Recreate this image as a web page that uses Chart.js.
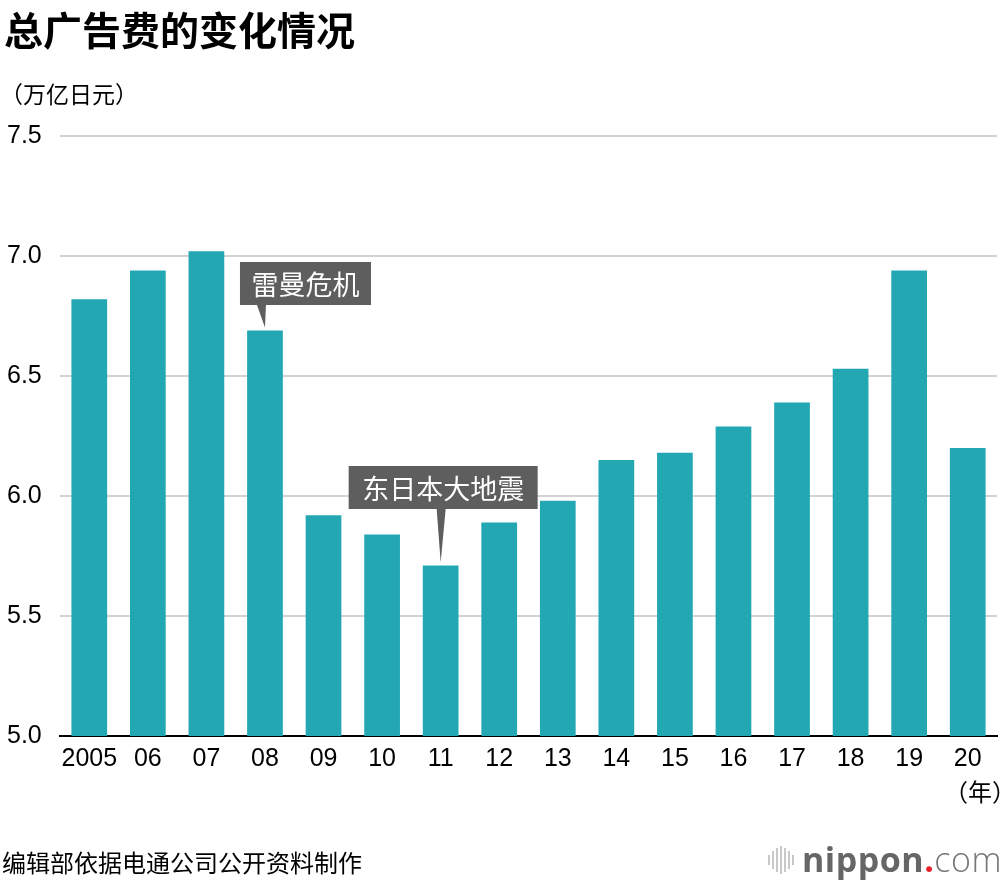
<!DOCTYPE html>
<html>
<head>
<meta charset="utf-8">
<script src="https://cdn.jsdelivr.net/npm/chart.js@4"></script>
<style>
  html, body { margin: 0; padding: 0; background: #fff; }
  body { width: 1000px; height: 880px; position: relative; overflow: hidden;
         font-family: "Liberation Sans", "Noto Sans CJK SC", sans-serif; color: #000; }
  #wrap { position: absolute; left: 0; top: 0; width: 1000px; height: 880px; }
  .title { position: absolute; left: 4px; top: 0px; font-size: 39px; font-weight: bold;
           font-family: "Noto Sans CJK SC", sans-serif; letter-spacing: 0px; }
  .unit { position: absolute; left: 0px; top: 76px; font-size: 23px;
          font-family: "Noto Sans CJK SC", sans-serif; }
  .year { position: absolute; left: 944px; top: 773px; font-size: 24px;
          font-family: "Noto Sans CJK SC", sans-serif; }
  .source { position: absolute; left: 2px; top: 844px; font-size: 24px;
            font-family: "Noto Sans CJK SC", sans-serif; }
  .logo { position: absolute; left: 768px; top: 838px; height: 40px; }
  .logo .bars { position: absolute; left: 0; top: 8px; width: 28px; height: 28px; }
  .logo .bars span { position: absolute; width: 2px; background: #c8c8c8; }
  .logo .txt { position: absolute; left: 34px; top: -2px; font-size: 34px; white-space: nowrap;
               font-family: "Open Sans", sans-serif; letter-spacing: 0.5px; }
  .logo .n { color: #666; font-weight: bold; }
  .logo .d { color: #e8202a; font-weight: bold; }
  .logo .c { color: #777; font-weight: 300; }
</style>
</head>
<body>
<div id="wrap"><canvas id="chart" width="1000" height="880"></canvas></div>
<div class="title">总广告费的变化情况</div>
<div class="unit">（万亿日元）</div>
<div class="year">（年）</div>
<div class="source">编辑部依据电通公司公开资料制作</div>
<div class="logo">
  <div class="bars" id="logobars"></div>
  <div class="txt"><span class="n">nippon</span><span class="d">.</span><span class="c">com</span></div>
</div>
<script>
// data
const years = ['2005', '06', '07', '08', '09', '10', '11', '12', '13', '14', '15', '16', '17', '18', '19', '20']
const adSpend = [6.82, 6.94, 7.02, 6.69, 5.92, 5.84, 5.71, 5.89, 5.98, 6.15, 6.18, 6.29, 6.39, 6.53, 6.94, 6.20]
const yTicks = [5.0, 5.5, 6.0, 6.5, 7.0, 7.5]
const notes = [
    { index: 3, text: '雷曼危机' },
    { index: 6, text: '东日本大地震' }
]

// little logo icon
const lb = document.getElementById('logobars')
const hts = [10, 18, 24, 28, 24, 18, 10]
hts.forEach((h, i) => {
    let s = document.createElement('span')
    s.style.left = (i * 4) + 'px'
    s.style.top = ((28 - h) / 2) + 'px'
    s.style.height = h + 'px'
    lb.appendChild(s)
})

const tickFont = { family: '"Liberation Sans", sans-serif', size: 25 }

// note boxes: box left offset from bar center, box top, size, pointer base offsets
const noteLayout = {
    3: { dx: -25, top: 262, w: 131, h: 43, baseX: [-8, 1] },
    6: { dx: -92, top: 466, w: 189, h: 43, baseX: [-4, 5] }
}

const notePlugin = {
    id: 'notes',
    afterDatasetsDraw(chart) {
        const ctx = chart.ctx
        const meta = chart.getDatasetMeta(0)
        notes.forEach(n => {
            const bar = meta.data[n.index]
            const L = noteLayout[n.index]
            const bx = bar.x + L.dx
            const by = L.top
            ctx.save()
            ctx.fillStyle = '#5e5e5e'
            ctx.fillRect(bx, by, L.w, L.h)
            // pointer
            ctx.beginPath()
            ctx.moveTo(bar.x + L.baseX[0], by + L.h)
            ctx.lineTo(bar.x + L.baseX[1], by + L.h)
            ctx.lineTo(bar.x, bar.y - 3)
            ctx.closePath()
            ctx.fill()
            ctx.fillStyle = '#fff'
            ctx.font = '27px "Noto Sans CJK SC", sans-serif'
            ctx.textAlign = 'center'
            ctx.textBaseline = 'middle'
            ctx.fillText(n.text, bx + L.w / 2, by + L.h / 2 + 1)
            ctx.restore()
        })
    }
}

const DATA = {
    type: 'bar',
    data: {
        labels: years,
        datasets: [{
            data: adSpend,
            backgroundColor: '#22a7b3',
            borderWidth: 0,
            categoryPercentage: 1.0,
            barPercentage: 0.61
        }]
    },
    options: {
        responsive: false,
        animation: false,
        events: [],
        layout: { padding: { top: 136, left: 7, right: 3, bottom: 104 } },
        plugins: { legend: { display: false }, tooltip: { enabled: false } },
        scales: {
            x: {
                grid: { display: false, drawTicks: false },
                border: { display: true, color: '#000', width: 2 },
                ticks: { color: '#000', font: tickFont, padding: 8, maxRotation: 0, autoSkip: false },
                afterFit(axis) { axis.height = 40 }
            },
            y: {
                min: 5.0,
                max: 7.5,
                afterBuildTicks(axis) { axis.ticks = yTicks.map(v => ({ value: v })) },
                grid: { color: '#d3d3d3', lineWidth: 2, drawTicks: false },
                border: { display: false },
                ticks: {
                    color: '#000',
                    font: tickFont,
                    padding: 0,
                    crossAlign: 'far',
                    callback: v => v.toFixed(1)
                },
                afterFit(axis) { axis.width = 53 }
            }
        }
    },
    plugins: [notePlugin]
}

document.addEventListener('DOMContentLoaded', () => {
    new Chart(document.getElementById('chart'), DATA)
})
</script>
</body>
</html>
